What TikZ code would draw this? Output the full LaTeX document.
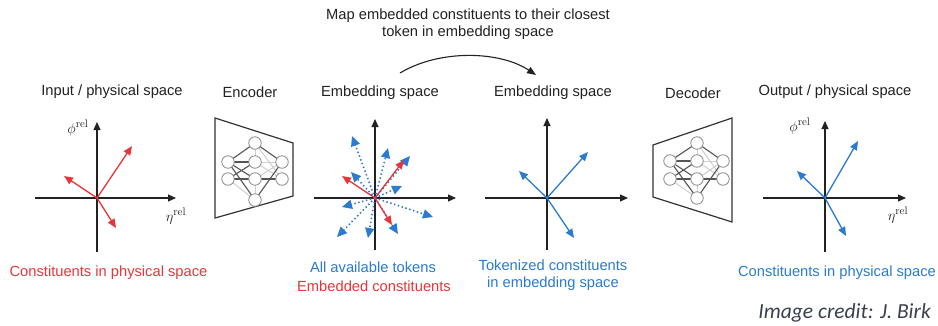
\documentclass[tikz,border=0pt]{standalone}
\usepackage[no-math]{fontspec}
\setmainfont{Liberation Sans}
\newfontfamily\creditfont{Carlito}
\usetikzlibrary{arrows.meta}
\definecolor{myred}{HTML}{E8353A}
\definecolor{myblue}{HTML}{2B7BD0}
\definecolor{axisc}{HTML}{222222}
\definecolor{txtc}{HTML}{222222}
\definecolor{netdark}{HTML}{555555}
\definecolor{netlight}{HTML}{CFCFCF}
\definecolor{credc}{HTML}{3A4050}
\tikzset{
  axis/.style={draw=axisc,line width=1.1pt,-{Triangle[length=8pt,width=7pt]}},
  redvec/.style={draw=myred,line width=1.3pt,-{Triangle[length=9pt,width=7.5pt]}},
  bluevec/.style={draw=myblue,line width=1.3pt,-{Triangle[length=9pt,width=7.5pt]}},
  tokvec/.style={draw=myblue,line width=1.6pt,dash pattern=on 1.4pt off 2.6pt,-{Triangle[length=10pt,width=9pt]}},
  lbl/.style={font=\fontsize{14.7}{17}\selectfont,text=txtc,inner sep=0pt},
  redlbl/.style={lbl,text=myred},
  bluelbl/.style={lbl,text=myblue},
  mathlbl/.style={font=\fontsize{15}{17}\selectfont,text=txtc,inner sep=0pt},
  neur/.style={circle,draw=black!45,fill=white,line width=0.8pt,minimum size=12.5pt,inner sep=0pt},
  dk/.style={draw=netdark,line width=1.1pt},
  lt/.style={draw=netlight,line width=1pt},
  trap/.style={draw=black!80,line width=1.2pt},
}
\begin{document}
\begin{tikzpicture}[x=1pt,y=-1pt]
\useasboundingbox[fill=white] (0,0) rectangle (938,325);

% ---------- top text and curved arrow
\node[lbl,align=center] (maptxt) at (468,24) {Map embedded constituents to their closest\\token in embedding space};
\coordinate (cs) at (400,73);
\coordinate (ce) at (536,75);
\draw[draw=axisc,line width=1.1pt,-{Triangle[length=9pt,width=7pt]}] (cs) .. controls (440,49) and (500,51) .. (ce);

% ---------- Panel 1: input
\node[lbl] (t1) at (112,92) {Input / physical space};
\coordinate (o1) at (97,198);
\coordinate (x1l) at (35,198); \coordinate (x1r) at (176,198);
\coordinate (y1b) at (97,252); \coordinate (y1t) at (97,122);
\draw[axis] (x1l) -- (x1r);
\draw[axis] (y1b) -- (y1t);
\node[mathlbl] (phi1) at (78,128) {$\phi^{\mathrm{rel}}$};
\node[mathlbl] (eta1) at (176,216) {$\eta^{\mathrm{rel}}$};
\coordinate (r1a) at (132,146); \coordinate (r1b) at (64,176); \coordinate (r1c) at (116,228);
\draw[redvec] (o1) -- (r1a);
\draw[redvec] (o1) -- (r1b);
\draw[redvec] (o1) -- (r1c);
\node[redlbl] (l1) at (108.5,273) {Constituents in physical space};

% ---------- Panel 2: encoder
\node[lbl] (t2) at (250,92) {Encoder};
\coordinate (e1) at (215,118); \coordinate (e2) at (293,143);
\coordinate (e3) at (293,196); \coordinate (e4) at (215,218);
\draw[trap] (e1) -- (e2) -- (e3) -- (e4) -- cycle;
\begin{scope}[shift={(255,0)}]
\coordinate (eT) at (0,143);
\coordinate (eA1) at (-27,162); \coordinate (eB1) at (0,162); \coordinate (eC1) at (27,162);
\coordinate (eA2) at (-27,179); \coordinate (eB2) at (0,179); \coordinate (eC2) at (27,179);
\coordinate (eBt) at (0,200);
\end{scope}
\draw[lt] (eT) -- (eB1); \draw[lt] (eB1) -- (eC1); \draw[lt] (eB1) -- (eC2);
\draw[lt] (eA2) -- (eB2); \draw[lt] (eB2) -- (eC1); \draw[lt] (eA2) -- (eBt);
\draw[lt] (eB2) -- (eBt); \draw[lt] (eT) -- (eC2);
\draw[dk] (eT) -- (eA1); \draw[dk] (eT) -- (eC1); \draw[dk] (eA1) -- (eB1);
\draw[dk] (eA1) -- (eB2); \draw[dk] (eA2) -- (eB1); \draw[dk] (eA1) -- (eBt);
\draw[dk] (eB2) -- (eC2); \draw[dk] (eC1) -- (eBt); \draw[dk] (eA2) -- (eB2);
\foreach \n in {eT,eA1,eB1,eC1,eA2,eB2,eC2,eBt} \node[neur] (N\n) at (\n) {};

% ---------- Panel 3: embedding space (all tokens)
\node[lbl] (t3) at (380,93) {Embedding space};
\coordinate (o3) at (375,198);
\coordinate (x3l) at (314,198); \coordinate (x3r) at (456,198);
\coordinate (y3b) at (375,250); \coordinate (y3t) at (375,119);
\draw[axis] (x3l) -- (x3r);
\draw[axis] (y3b) -- (y3t);
\foreach \i/\px/\py in {1/352/136,2/388/148,3/410/156,4/351/172,5/402/186,6/342/207,7/433/217,8/337/237,9/368/238,10/398/234}{
  \coordinate (tk\i) at (\px,\py);
  \draw[tokvec] (o3) -- (tk\i);
}
\coordinate (r3a) at (404,160); \coordinate (r3b) at (342,176); \coordinate (r3c) at (392,225);
\draw[redvec] (o3) -- (r3a);
\draw[redvec] (o3) -- (r3b);
\draw[redvec] (o3) -- (r3c);
\node[bluelbl] (l3a) at (373,267) {All available tokens};
\node[redlbl] (l3b) at (374,286) {Embedded constituents};

% ---------- Panel 4: tokenized
\node[lbl] (t4) at (553,93) {Embedding space};
\coordinate (o4) at (547,198);
\coordinate (x4l) at (485,198); \coordinate (x4r) at (628,198);
\coordinate (y4b) at (547,250); \coordinate (y4t) at (547,118);
\draw[axis] (x4l) -- (x4r);
\draw[axis] (y4b) -- (y4t);
\coordinate (b4a) at (588,152); \coordinate (b4b) at (519,171); \coordinate (b4c) at (574,238);
\draw[bluevec] (o4) -- (b4a);
\draw[bluevec] (o4) -- (b4b);
\draw[bluevec] (o4) -- (b4c);
\node[bluelbl,align=center] (l4) at (553,275) {Tokenized constituents\\in embedding space};

% ---------- Panel 5: decoder
\node[lbl] (t5) at (693,93) {Decoder};
\coordinate (d1) at (653,145); \coordinate (d2) at (732,118);
\coordinate (d3) at (732,222); \coordinate (d4) at (653,197);
\draw[trap] (d1) -- (d2) -- (d3) -- (d4) -- cycle;
\begin{scope}[shift={(697,0)}]
\coordinate (dT) at (0,143);
\coordinate (dA1) at (-27,161); \coordinate (dB1) at (0,161); \coordinate (dC1) at (26,161);
\coordinate (dA2) at (-27,179); \coordinate (dB2) at (0,179); \coordinate (dC2) at (26,179);
\coordinate (dBt) at (0,198);
\end{scope}
\draw[lt] (dT) -- (dB1); \draw[lt] (dB1) -- (dC1); \draw[lt] (dB1) -- (dC2);
\draw[lt] (dA2) -- (dB2); \draw[lt] (dB2) -- (dC1); \draw[lt] (dA2) -- (dBt);
\draw[lt] (dB2) -- (dBt); \draw[lt] (dT) -- (dC2);
\draw[dk] (dT) -- (dA1); \draw[dk] (dT) -- (dC1); \draw[dk] (dA1) -- (dB1);
\draw[dk] (dA1) -- (dB2); \draw[dk] (dA2) -- (dB1); \draw[dk] (dA1) -- (dBt);
\draw[dk] (dB2) -- (dC2); \draw[dk] (dC1) -- (dBt); \draw[dk] (dA2) -- (dB2);
\foreach \n in {dT,dA1,dB1,dC1,dA2,dB2,dC2,dBt} \node[neur] (N\n) at (\n) {};

% ---------- Panel 6: output
\node[lbl] (t6) at (835,92) {Output / physical space};
\coordinate (o6) at (825,198);
\coordinate (x6l) at (763,198); \coordinate (x6r) at (906,198);
\coordinate (y6b) at (825,252); \coordinate (y6t) at (825,121);
\draw[axis] (x6l) -- (x6r);
\draw[axis] (y6b) -- (y6t);
\node[mathlbl] (phi6) at (800,126) {$\phi^{\mathrm{rel}}$};
\node[mathlbl] (eta6) at (898,215) {$\eta^{\mathrm{rel}}$};
\coordinate (b6a) at (858,141); \coordinate (b6b) at (797,171); \coordinate (b6c) at (846,236);
\draw[bluevec] (o6) -- (b6a);
\draw[bluevec] (o6) -- (b6b);
\draw[bluevec] (o6) -- (b6c);
\node[bluelbl] (l6) at (837,273) {Constituents in physical space};

% ---------- credit
\node[inner sep=0pt,anchor=east,font=\creditfont\itshape\fontsize{21.5}{25}\selectfont,text=credc] (cred) at (931,313) {Image credit: J. Birk};
\end{tikzpicture}
\end{document}
